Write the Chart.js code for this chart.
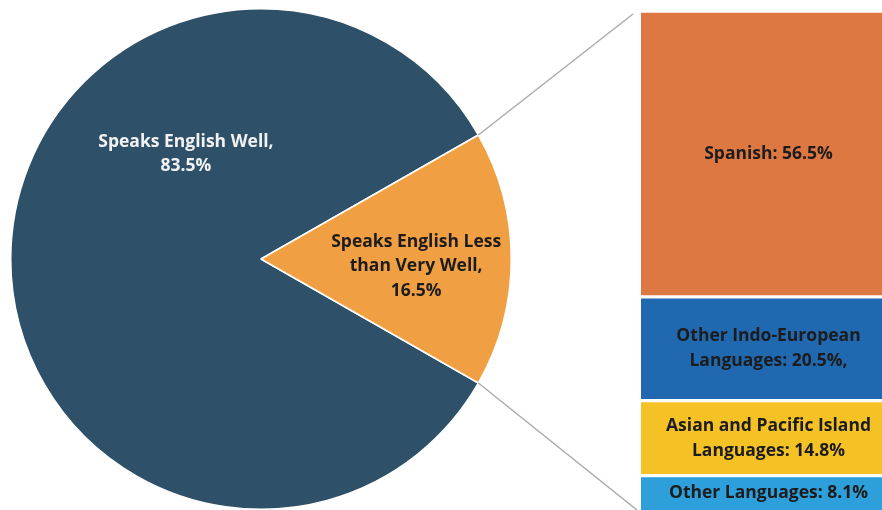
<!DOCTYPE html>
<html>
<head>
<meta charset="utf-8">
<script src="https://cdn.jsdelivr.net/npm/chart.js@4.4.0/dist/chart.umd.min.js"></script>
<style>
  html, body { margin: 0; padding: 0; background: #fff; overflow: hidden; }
  #wrap { position: relative; width: 882px; height: 510px; overflow: hidden; }
  #pie { position: absolute; left: 0; top: 0; }
  #bar { position: absolute; left: 0; top: 0; }
</style>
</head>
<body>
<div id="wrap">
  <canvas id="pie" width="882" height="510"></canvas>
  <canvas id="bar" width="896" height="510"></canvas>
</div>
<script>
// pie: share of people by how well they speak English
const pieLabels = ['Speaks English Well', 'Speaks English Less than Very Well'];
const pieValues = [83.5, 16.5];
const pieTexts = [['Speaks English Well,', '83.5%'], ['Speaks English Less', 'than Very Well,', '16.5%']];

// breakdown of the smaller slice by language group
const langLabels = ['Spanish', 'Other Indo-European Languages', 'Asian and Pacific Island Languages', 'Other Languages'];
const langValues = [56.5, 20.5, 14.8, 8.1];
const langTexts = [['Spanish: 56.5%'], ['Other Indo-European', 'Languages: 20.5%,'], ['Asian and Pacific Island', 'Languages: 14.8%'], ['Other Languages: 8.1%']];

const pieColors = ['#2e5068', '#f0a043'];
const langColors = ['#dd7843', '#2069b0', '#f4c225', '#2d9fda'];
const FONT = '"Open Sans", sans-serif';
const FONT_SIZE = 17.5;

function drawLines(ctx, lines, x, y, size, color, gap) {
    ctx.save();
    ctx.font = 'bold ' + size + 'px ' + FONT;
    ctx.fillStyle = color;
    ctx.textAlign = 'center';
    ctx.textBaseline = 'middle';
    let top = y - (lines.length - 1) * gap / 2;
    lines.forEach((t, i) => ctx.fillText(t, x, top + i * gap));
    ctx.restore();
}

// where the pie labels sit, relative to the centre, in radii
const pieLabelPos = [[-0.30, -0.42], [0.62, 0.03]];
const pieTextColors = ['#f2f2f2', '#1c1c1c'];

const pieLabelPlugin = {
    id: 'pieLabels',
    afterDatasetsDraw(chart) {
        const ctx = chart.ctx;
        chart.getDatasetMeta(0).data.forEach((arc, i) => {
            const p = arc.getProps(['x', 'y', 'outerRadius']);
            drawLines(ctx, pieTexts[i], p.x + pieLabelPos[i][0] * p.outerRadius,
                p.y + pieLabelPos[i][1] * p.outerRadius, FONT_SIZE, pieTextColors[i], 24.5);
        });
    }
};

const pieChart = new Chart(document.getElementById('pie'), {
    type: 'pie',
    data: {
        labels: pieLabels,
        datasets: [{
            data: pieValues,
            backgroundColor: pieColors,
            borderColor: '#ffffff',
            borderWidth: 1.5
        }]
    },
    options: {
        responsive: false,
        animation: false,
        rotation: 119.7,
        layout: { padding: { left: 10, top: 8, right: 370, bottom: 0 } },
        plugins: { legend: { display: false }, tooltip: { enabled: false } }
    },
    plugins: [pieLabelPlugin]
});

const barLabelPlugin = {
    id: 'barLabels',
    afterDatasetsDraw(chart) {
        const ctx = chart.ctx;
        const ca = chart.chartArea;
        // connector lines from the orange slice to the bar
        const arc = pieChart.getDatasetMeta(0).data[1].getProps(['x', 'y', 'outerRadius', 'startAngle', 'endAngle']);
        const r = arc.outerRadius;
        ctx.save();
        ctx.strokeStyle = '#acacac';
        ctx.lineWidth = 1.5;
        ctx.beginPath();
        ctx.moveTo(arc.x + r * Math.cos(arc.startAngle), arc.y + r * Math.sin(arc.startAngle));
        ctx.lineTo(ca.left - 8, ca.top + 3);
        ctx.moveTo(arc.x + r * Math.cos(arc.endAngle), arc.y + r * Math.sin(arc.endAngle));
        ctx.lineTo(ca.left - 4, ca.bottom);
        ctx.stroke();
        ctx.restore();

        chart.data.datasets.forEach((ds, i) => {
            const bar = chart.getDatasetMeta(i).data[0].getProps(['x', 'y', 'base']);
            const y0 = Math.max(Math.min(bar.y, bar.base), ca.top);
            const y1 = Math.min(Math.max(bar.y, bar.base), ca.bottom);
            drawLines(ctx, langTexts[i], bar.x, (y0 + y1) / 2, FONT_SIZE, '#1c1c1c', 25);
        });
    }
};

const barChart = new Chart(document.getElementById('bar'), {
    type: 'bar',
    data: {
        labels: ['Less than Very Well'],
        datasets: langLabels.map((name, i) => ({
            label: name,
            data: [langValues[i]],
            backgroundColor: langColors[i],
            borderColor: '#ffffff',
            borderWidth: { top: 2, bottom: 2, left: 0, right: 0 },
            borderSkipped: false,
            barPercentage: 1,
            categoryPercentage: 1
        }))
    },
    options: {
        responsive: false,
        animation: false,
        layout: { padding: { left: 641, top: 11, right: 0, bottom: 0 } },
        scales: {
            x: { stacked: true, display: false },
            y: { stacked: true, display: false, reverse: true, min: 0, max: 98.6 }
        },
        plugins: { legend: { display: false }, tooltip: { enabled: false } }
    },
    plugins: [barLabelPlugin]
});
</script>
</body>
</html>
